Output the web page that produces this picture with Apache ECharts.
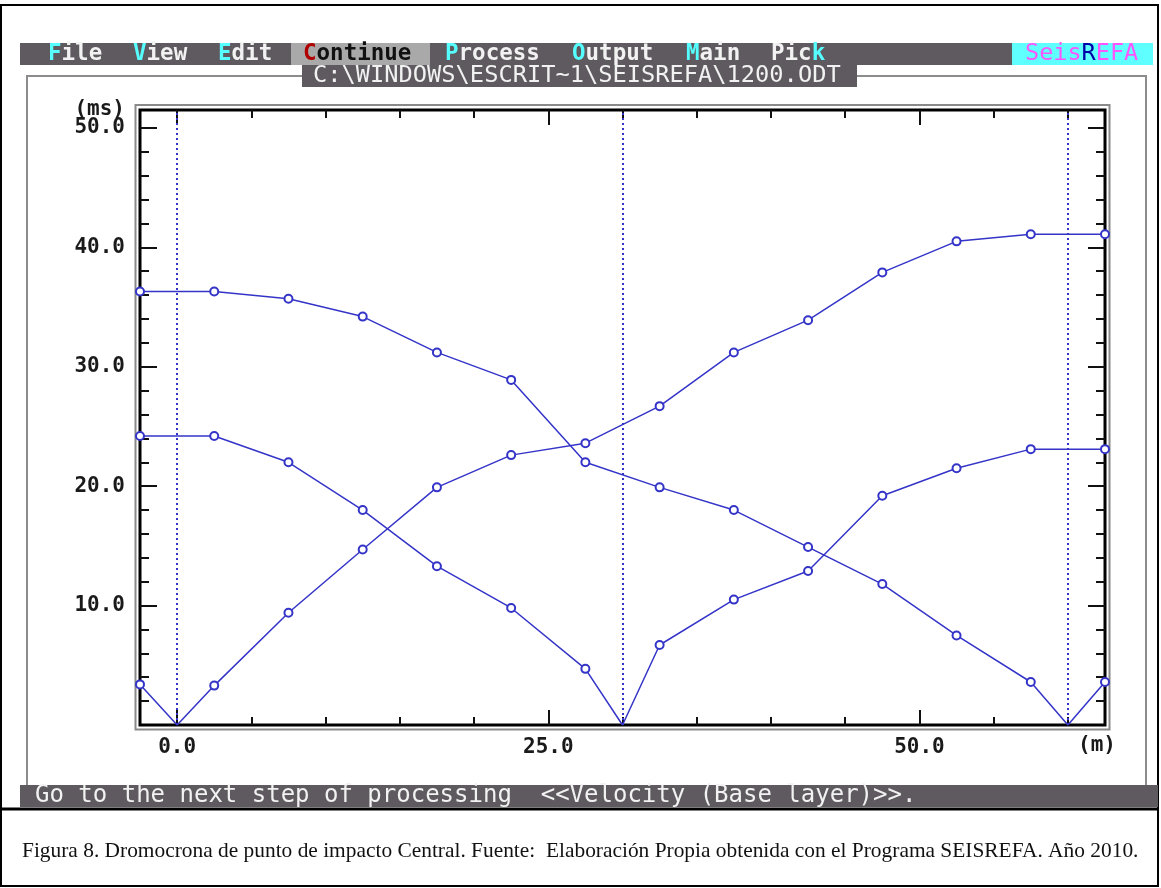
<!DOCTYPE html>
<html>
<head>
<meta charset="utf-8">
<title>Dromocrona - SEISREFA</title>
<script src="https://cdn.jsdelivr.net/npm/echarts@6.0.0/dist/echarts.min.js"></script>
<style>
  html, body { margin: 0; padding: 0; background: #fff; }
  #chart { width: 1161px; height: 888px; }
</style>
</head>
<body>
<div id="chart"></div>
<script>
// geophone positions (m) and shot points (m)
const geophoneX = [-2.5, 2.5, 7.5, 12.5, 17.5, 22.5, 27.5, 32.5, 37.5, 42.5, 47.5, 52.5, 57.5, 62.5];
const shotX = [0, 30, 60];

// first arrival times (ms) at each geophone, one list per shot
const timesShot0 = [3.4, 3.3, 9.4, 14.7, 19.9, 22.6, 23.6, 26.7, 31.2, 33.9, 37.9, 40.5, 41.1, 41.1];
const timesShot30 = [24.2, 24.2, 22.0, 18.0, 13.3, 9.8, 4.7, 6.7, 10.5, 12.9, 19.2, 21.5, 23.1, 23.1];
const timesShot60 = [36.3, 36.3, 35.7, 34.2, 31.2, 28.9, 22.0, 19.9, 18.0, 14.9, 11.8, 7.5, 3.6, 3.6];

// tick marks and labels
const xMinorTicks = [0, 5, 10, 15, 20, 25, 30, 35, 40, 45, 50, 55, 60];
const xMajorTicks = [0, 25, 50];
const yMinorTicks = [2, 4, 6, 8, 10, 12, 14, 16, 18, 20, 22, 24, 26, 28, 30, 32, 34, 36, 38, 40, 42, 44, 46, 48, 50];
const yMajorTicks = [10, 20, 30, 40, 50];

// DOS menu: [text with rich tags, left x]
const menuItems = [
  ['{k|F}{t|ile}', 48],
  ['{k|V}{t|iew}', 133],
  ['{k|E}{t|dit}', 218],
  ['{r|C}{d|ontinue}', 303],
  ['{k|P}{t|rocess}', 445],
  ['{k|O}{t|utput}', 572],
  ['{k|M}{t|ain}', 686],
  ['{t|Pic}{k|k}', 771]
];
const pathTitle = 'C:\\WINDOWS\\ESCRIT~1\\SEISREFA\\1200.ODT';
const statusText = 'Go to the next step of processing  <<Velocity (Base layer)>>.';
const captionText = 'Figura 8. Dromocrona de punto de impacto Central. Fuente:  Elaboración Propia obtenida con el Programa SEISREFA. Año 2010.';

const BAR = '#5f5a5f';
const BLUE = '#3434c8';
const MONO = '"DejaVu Sans Mono", "Liberation Mono", monospace';

// geophone picks plus the shot point itself (time 0, no marker)
const buildPicks = (shot, times) => {
  const pts = geophoneX.map((x, i) => ({ value: [x, times[i]] }));
  pts.push({ value: [shot, 0], symbol: 'none' });
  return pts.sort((a, b) => a.value[0] - b.value[0]);
};

const lineSeries = (name, shot, times) => ({
  name: name,
  type: 'line',
  xAxisIndex: 0,
  yAxisIndex: 0,
  data: buildPicks(shot, times),
  symbol: 'emptyCircle',
  symbolSize: 8,
  showAllSymbol: true,
  lineStyle: { color: BLUE, width: 1.5 },
  itemStyle: { color: BLUE, borderColor: BLUE, borderWidth: 1.5 },
  z: 3
});

const xAxisBase = (position, ticks, len) => ({
  type: 'value',
  position: position,
  min: -2.5,
  max: 62.5,
  axisLine: { show: false, onZero: false },
  splitLine: { show: false },
  axisTick: { show: true, inside: true, length: len, customValues: ticks, lineStyle: { color: '#111', width: 2 } },
  axisLabel: { show: false }
});

const yAxisBase = (position, ticks, len) => ({
  type: 'value',
  position: position,
  min: 0,
  max: 51.5,
  axisLine: { show: false, onZero: false },
  splitLine: { show: false },
  axisTick: { show: true, inside: true, length: len, customValues: ticks, lineStyle: { color: '#111', width: 2 } },
  axisLabel: { show: false }
});

const labelStyle = {
  show: true,
  fontFamily: MONO,
  fontWeight: 'bold',
  fontSize: 21,
  color: '#1a1a1a',
  formatter: (v) => v.toFixed(1)
};

const xLabelAxis = xAxisBase('bottom', xMajorTicks, 15);
xLabelAxis.axisLabel = Object.assign({ customValues: xMajorTicks, margin: 12 }, labelStyle);
const yLabelAxis = yAxisBase('left', yMajorTicks, 17);
yLabelAxis.axisLabel = Object.assign({ customValues: yMajorTicks, margin: 15 }, labelStyle);

const menuRich = {
  k: { fill: '#55ffff' },
  t: { fill: '#f2f2f2' },
  r: { fill: '#b00000' },
  d: { fill: '#111111' },
  m: { fill: '#ff55ff' },
  b: { fill: '#0000a8' }
};

const textEl = (x, y, text, extra) => ({
  type: 'text',
  x: x,
  y: y,
  z: 5,
  style: Object.assign({
    text: text,
    fontFamily: MONO,
    fontSize: 22,
    verticalAlign: 'middle',
    fill: '#f2f2f2'
  }, extra || {})
});

const graphics = [
  // picture border and separator above the caption
  { type: 'rect', z: 1, shape: { x: 1, y: 5, width: 1157, height: 881 }, style: { fill: 'transparent', stroke: '#000', lineWidth: 2 } },
  { type: 'line', z: 1, shape: { x1: 1, y1: 809, x2: 1159, y2: 809 }, style: { stroke: '#000', lineWidth: 3 } },
  // window frame
  { type: 'rect', z: 1, shape: { x: 27, y: 76, width: 1119, height: 710 }, style: { fill: 'transparent', stroke: '#8c8c8c', lineWidth: 2 } },
  // double border round the plot (grey outer line)
  { type: 'rect', z: 1, shape: { x: 135.5, y: 105, width: 974, height: 624.5 }, style: { fill: 'transparent', stroke: '#8a8a8a', lineWidth: 2 } },
  // menu bar
  { type: 'rect', z: 2, shape: { x: 20, y: 43, width: 1133, height: 22 }, style: { fill: BAR } },
  { type: 'rect', z: 3, shape: { x: 291, y: 43, width: 139, height: 22 }, style: { fill: '#a9a9a9' } },
  { type: 'rect', z: 3, shape: { x: 1012, y: 43, width: 141, height: 22 }, style: { fill: '#5fffff' } },
  // file name box
  { type: 'rect', z: 3, shape: { x: 302, y: 65, width: 555, height: 22 }, style: { fill: BAR } },
  // status bar
  { type: 'rect', z: 2, shape: { x: 20, y: 785, width: 1138, height: 22 }, style: { fill: BAR } }
];

menuItems.forEach(([text, x]) => {
  graphics.push(textEl(x, 54, text, { rich: menuRich, fontWeight: 'bold', fontSize: 22.5 }));
});
graphics.push(textEl(1025, 54, '{m|Seis}{b|R}{m|EFA}', { rich: menuRich, fontSize: 23.5 }));
graphics.push(textEl(313, 76, pathTitle, { fontSize: 23.7 }));
graphics.push(textEl(35, 796, statusText, { fontSize: 24 }));
// axis units
graphics.push(textEl(125, 110, '(ms)', { textAlign: 'right', fill: '#1a1a1a', fontWeight: 'bold', fontSize: 21 }));
graphics.push(textEl(1116, 746, '(m)', { textAlign: 'right', fill: '#1a1a1a', fontWeight: 'bold', fontSize: 21 }));
// caption
graphics.push({
  type: 'text', x: 22, y: 851, z: 5,
  style: { text: captionText, fontFamily: '"Liberation Serif", "DejaVu Serif", serif', fontSize: 21.4, fill: '#111', verticalAlign: 'middle' }
});

const chart = echarts.init(document.getElementById('chart'));
chart.setOption({
  animation: false,
  backgroundColor: '#fff',
  grid: {
    left: 140,
    right: 56,
    top: 110,
    bottom: 163,
    show: true,
    backgroundColor: '#fff',
    borderColor: '#000',
    borderWidth: 3
  },
  xAxis: [
    xAxisBase('bottom', xMinorTicks, 8),
    xLabelAxis,
    xAxisBase('top', xMinorTicks, 8),
    xAxisBase('top', xMajorTicks, 15)
  ],
  yAxis: [
    yAxisBase('left', yMinorTicks, 9),
    yLabelAxis,
    yAxisBase('right', yMinorTicks, 9),
    yAxisBase('right', yMajorTicks, 17)
  ],
  graphic: graphics,
  series: [
    Object.assign(lineSeries('Shot 0 m', shotX[0], timesShot0), {
      // shot point positions
      markLine: {
        silent: true,
        symbol: ['none', 'none'],
        label: { show: false },
        lineStyle: { color: BLUE, type: [2, 3], width: 2 },
        data: shotX.map(x => ({ xAxis: x }))
      }
    }),
    lineSeries('Shot 30 m', shotX[1], timesShot30),
    lineSeries('Shot 60 m', shotX[2], timesShot60)
  ]
});
</script>
</body>
</html>
